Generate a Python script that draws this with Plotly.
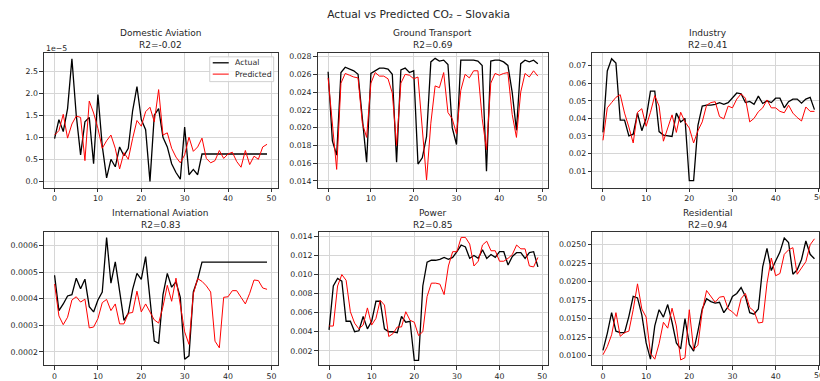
import plotly.graph_objects as go

x_vals = list(range(50))
x_ticks = [0, 10, 20, 30, 40, 50]

# Domestic Aviation (units of 1e-5)
domestic_actual = [0.97, 1.40, 1.13, 1.65, 2.78, 1.50, 0.60, 1.35, 1.45, 0.40,
                   1.97, 0.80, 0.08, 0.50, 0.33, 0.78, 0.58, 0.75, 1.60, 2.15,
                   1.40, 1.17, 0.00, 1.50, 1.65, 1.00, 0.78, 0.40, 0.20, 0.05,
                   1.23, 0.15, 0.27, 0.15, 0.62, 0.62, 0.62, 0.62, 0.62, 0.62,
                   0.62, 0.62, 0.62, 0.62, 0.62, 0.62, 0.62, 0.62, 0.62, 0.62]
domestic_pred = [1.05, 1.15, 1.52, 0.98, 1.30, 1.48, 1.45, 0.47, 1.82, 1.55,
                 1.20, 0.75, 0.92, 1.05, 0.75, 0.28, 0.65, 0.50, 0.97, 1.38,
                 1.25, 1.58, 1.68, 1.35, 2.08, 1.05, 1.10, 0.75, 0.55, 0.42,
                 0.60, 1.00, 0.68, 0.78, 0.98, 0.52, 0.42, 0.47, 0.70, 0.52,
                 0.62, 0.66, 0.45, 0.32, 0.70, 0.38, 0.57, 0.50, 0.78, 0.84]

ground_actual = [0.0263, 0.0185, 0.0169, 0.0262, 0.0268, 0.0266, 0.0264, 0.0260, 0.0210, 0.0161,
                 0.0261, 0.0264, 0.0267, 0.0267, 0.0266, 0.0260, 0.0161, 0.0265, 0.0267, 0.0262,
                 0.0264, 0.0159, 0.0166, 0.0190, 0.0274, 0.0278, 0.0275, 0.0276, 0.0271, 0.0200,
                 0.0181, 0.0276, 0.0276, 0.0276, 0.0276, 0.0275, 0.0270, 0.0151, 0.0275, 0.0276,
                 0.0276, 0.0274, 0.0270, 0.0240, 0.0197, 0.0272, 0.0276, 0.0274, 0.0276, 0.0272]
ground_pred = [0.0256, 0.0200, 0.0153, 0.0250, 0.0261, 0.0259, 0.0257, 0.0256, 0.0205, 0.0189,
               0.0250, 0.0262, 0.0258, 0.0258, 0.0255, 0.0239, 0.0180, 0.0250, 0.0260, 0.0259,
               0.0255, 0.0257, 0.0200, 0.0141, 0.0205, 0.0247, 0.0245, 0.0262, 0.0217, 0.0210,
               0.0193, 0.0242, 0.0260, 0.0256, 0.0264, 0.0264, 0.0210, 0.0175, 0.0250, 0.0261,
               0.0259, 0.0261, 0.0262, 0.0215, 0.0189, 0.0240, 0.0261, 0.0257, 0.0264, 0.0258]

industry_actual = [0.032, 0.067, 0.074, 0.0715, 0.039, 0.039, 0.030, 0.031, 0.043, 0.033,
                   0.040, 0.0555, 0.0555, 0.0325, 0.0305, 0.0302, 0.0297, 0.043, 0.038, 0.040,
                   0.0045, 0.0045, 0.036, 0.047, 0.0475, 0.0475, 0.048, 0.049, 0.048, 0.049,
                   0.052, 0.0545, 0.054, 0.049, 0.0497, 0.048, 0.0527, 0.0485, 0.050, 0.049,
                   0.0515, 0.0515, 0.046, 0.0495, 0.051, 0.051, 0.0487, 0.051, 0.052, 0.045]
industry_pred = [0.0275, 0.046, 0.049, 0.052, 0.0535, 0.043, 0.035, 0.026, 0.0435, 0.0455,
                 0.0355, 0.0435, 0.053, 0.047, 0.027, 0.034, 0.042, 0.032, 0.0435, 0.038,
                 0.0345, 0.026, 0.033, 0.038, 0.0475, 0.049, 0.0495, 0.041, 0.0397, 0.047,
                 0.046, 0.051, 0.054, 0.0515, 0.038, 0.040, 0.0438, 0.046, 0.0505, 0.046,
                 0.046, 0.044, 0.0432, 0.0475, 0.043, 0.0405, 0.0385, 0.0465, 0.044, 0.044]

intl_actual = [0.000488, 0.000355, 0.000380, 0.000410, 0.000415, 0.000477, 0.000437, 0.000473, 0.000370, 0.000350,
               0.000395, 0.000425, 0.000630, 0.000458, 0.000538, 0.000425, 0.000318, 0.000345, 0.000435, 0.000495,
               0.000472, 0.000558, 0.000395, 0.000240, 0.000232, 0.000415, 0.000495, 0.000443, 0.000463, 0.000405,
               0.000172, 0.000185, 0.000425, 0.000473, 0.000537, 0.000537, 0.000537, 0.000537, 0.000537, 0.000537,
               0.000537, 0.000537, 0.000537, 0.000537, 0.000537, 0.000537, 0.000537, 0.000537, 0.000537, 0.000537]
intl_pred = [0.000455, 0.000335, 0.000302, 0.000330, 0.000395, 0.000407, 0.000387, 0.000398, 0.000290, 0.000293,
             0.000325, 0.000385, 0.000397, 0.000355, 0.000380, 0.000305, 0.000305, 0.000345, 0.000348, 0.000428,
             0.000350, 0.000380, 0.000350, 0.000320, 0.000308, 0.000370, 0.000450, 0.000390, 0.000477, 0.000380,
             0.000275, 0.000228, 0.000418, 0.000475, 0.000465, 0.000448, 0.000425, 0.000240, 0.000215, 0.000405,
             0.000407, 0.000430, 0.000430, 0.000405, 0.000380, 0.000420, 0.000470, 0.000468, 0.000440, 0.000435]

power_actual = [0.0042, 0.0088, 0.0096, 0.0093, 0.0051, 0.0051, 0.0040, 0.0041, 0.0056, 0.0043,
                0.0051, 0.0072, 0.0072, 0.0043, 0.0040, 0.0040, 0.0039, 0.0056, 0.0050, 0.0051,
                0.0010, 0.0010, 0.0088, 0.0113, 0.0115, 0.0115, 0.0116, 0.0118, 0.0116, 0.0118,
                0.0124, 0.0131, 0.0129, 0.0117, 0.0120, 0.0117, 0.0126, 0.0117, 0.0121, 0.0118,
                0.0124, 0.0124, 0.0110, 0.0119, 0.0123, 0.0123, 0.0117, 0.0123, 0.0124, 0.0108]
power_pred = [0.0046, 0.0046, 0.0088, 0.0100, 0.0094, 0.0061, 0.0049, 0.0043, 0.0047, 0.0065,
              0.0047, 0.0054, 0.0073, 0.0068, 0.0035, 0.0038, 0.0045, 0.0045, 0.0061, 0.0052,
              0.0050, 0.0036, 0.0040, 0.0077, 0.0091, 0.0091, 0.0090, 0.0079, 0.0109, 0.0124,
              0.0124, 0.0139, 0.0139, 0.0132, 0.0109, 0.0114, 0.0131, 0.0135, 0.0125, 0.0125,
              0.0114, 0.0114, 0.0117, 0.0121, 0.0131, 0.0127, 0.0127, 0.0109, 0.0108, 0.0118]

resid_actual = [0.0107, 0.0130, 0.0158, 0.0133, 0.0131, 0.0131, 0.0153, 0.0180, 0.0178, 0.0155,
                0.0117, 0.0095, 0.0140, 0.0162, 0.0152, 0.0169, 0.0145, 0.0117, 0.0109, 0.0150,
                0.0115, 0.0106, 0.0133, 0.0163, 0.0177, 0.0173, 0.0171, 0.0172, 0.0158, 0.0166,
                0.0180, 0.0184, 0.0192, 0.0180, 0.0158, 0.0156, 0.0163, 0.0220, 0.0245, 0.0215,
                0.0228, 0.0240, 0.0259, 0.0253, 0.0210, 0.0216, 0.0230, 0.0255, 0.0237, 0.0231]
resid_pred = [0.0101, 0.0112, 0.0128, 0.0158, 0.0126, 0.0131, 0.0133, 0.0162, 0.0197, 0.0163,
              0.0152, 0.0103, 0.0095, 0.0116, 0.0145, 0.0137, 0.0164, 0.0140, 0.0094, 0.0097,
              0.0162, 0.0108, 0.0114, 0.0160, 0.0188, 0.0180, 0.0172, 0.0179, 0.0180, 0.0163,
              0.0159, 0.0153, 0.0177, 0.0184, 0.0165, 0.0160, 0.0144, 0.0145, 0.0198, 0.0232,
              0.0208, 0.0211, 0.0237, 0.0243, 0.0246, 0.0210, 0.0219, 0.0227, 0.0250, 0.0258]

titles = ["Domestic Aviation", "Ground Transport", "Industry",
          "International Aviation", "Power", "Residential"]
r2_values = ["-0.02", "0.69", "0.41", "0.83", "0.85", "0.94"]
legend_labels = ["Actual", "Predicted"]

W, H = 820, 381
FONT = "DejaVu Sans"
TXT = "#262626"

panels = [
    dict(a=domestic_actual, p=domestic_pred, box=(44, 278, 53, 189), yr=[-0.14, 2.92],
         tv=[0, 0.5, 1.0, 1.5, 2.0, 2.5], fmt=".1f", xr=[-2.45, 51.45], tc=161),
    dict(a=ground_actual, p=ground_pred, box=(318, 549, 53, 189), yr=[0.01326, 0.02845],
         tv=[0.014, 0.016, 0.018, 0.020, 0.022, 0.024, 0.026, 0.028], fmt=".3f", xr=[-2.45, 51.45], tc=433.5),
    dict(a=industry_actual, p=industry_pred, box=(593, 820, 53, 189), yr=[0.0006, 0.0775],
         tv=[0.01, 0.02, 0.03, 0.04, 0.05, 0.06, 0.07], fmt=".2f", xr=[-2.48, 50.05], tc=709),
    dict(a=intl_actual, p=intl_pred, box=(44, 278, 234, 368), yr=[0.00015, 0.00065],
         tv=[0.0002, 0.0003, 0.0004, 0.0005, 0.0006], fmt=".4f", xr=[-2.45, 51.45], tc=161),
    dict(a=power_actual, p=power_pred, box=(319, 549, 234, 368), yr=[0.0005, 0.01445],
         tv=[0.002, 0.004, 0.006, 0.008, 0.010, 0.012, 0.014], fmt=".3f", xr=[-2.45, 51.45], tc=434),
    dict(a=resid_actual, p=resid_pred, box=(593, 820, 234, 368), yr=[0.0087, 0.0267],
         tv=[0.0100, 0.0125, 0.0150, 0.0175, 0.0200, 0.0225, 0.0250], fmt=".4f", xr=[-2.48, 50.05], tc=709),
]

fig = go.Figure()
annotations = []
shapes = []
layout_axes = {}

for i, pnl in enumerate(panels):
    n = i + 1
    xa = "x" if n == 1 else f"x{n}"
    ya = "y" if n == 1 else f"y{n}"
    fig.add_trace(go.Scatter(x=x_vals, y=pnl["a"], mode="lines", name=legend_labels[0],
                             line=dict(color="black", width=1.3),
                             xaxis=xa, yaxis=ya, showlegend=False))
    fig.add_trace(go.Scatter(x=x_vals, y=pnl["p"], mode="lines", name=legend_labels[1],
                             line=dict(color="red", width=1.0),
                             xaxis=xa, yaxis=ya, showlegend=False))
    x0, x1, y0, y1 = pnl["box"]
    xdom = [x0 / W, min(x1 / W, 1.0)]
    ydom = [1 - y1 / H, 1 - y0 / H]
    common = dict(showline=True, mirror=True, linecolor="#333333", linewidth=1,
                  ticks="outside", ticklen=3.5, tickwidth=0.8, tickcolor="#333333",
                  showgrid=True, gridcolor="#d6d6d6", gridwidth=1, zeroline=False,
                  tickfont=dict(family=FONT, size=7.8, color=TXT))
    layout_axes["xaxis" if n == 1 else f"xaxis{n}"] = dict(
        domain=xdom, range=pnl["xr"], tickvals=x_ticks, anchor=ya, **common)
    layout_axes["yaxis" if n == 1 else f"yaxis{n}"] = dict(
        domain=ydom, range=pnl["yr"], tickvals=pnl["tv"], tickformat=pnl["fmt"],
        anchor=xa, **common)
    # two-line subplot title
    l1 = y0 - 19.7
    l2 = y0 - 7.5
    annotations.append(dict(text=titles[i], xref="paper", yref="paper",
                            x=pnl["tc"] / W, y=1 - l1 / H, xanchor="center", yanchor="middle",
                            showarrow=False, font=dict(family=FONT, size=9, color=TXT)))
    annotations.append(dict(text=f"R2={r2_values[i]}", xref="paper", yref="paper",
                            x=pnl["tc"] / W, y=1 - l2 / H, xanchor="center", yanchor="middle",
                            showarrow=False, font=dict(family=FONT, size=9, color=TXT)))

# the "50" tick label of the right-hand panels, cut by the figure edge
for ylab in (199.0, 378.5):
    annotations.append(dict(text="50", xref="paper", yref="paper", x=1.0, y=1 - ylab / H,
                            xanchor="center", yanchor="middle", showarrow=False,
                            font=dict(family=FONT, size=7.8, color=TXT)))

# offset text for the domestic aviation axis
annotations.append(dict(text="1e\u22125", xref="paper", yref="paper", x=44 / W, y=1 - 49.3 / H,
                        xanchor="left", yanchor="middle", showarrow=False,
                        font=dict(family=FONT, size=7.8, color=TXT)))

# legend drawn in the first panel (box, handles, labels)
shapes.append(dict(type="rect", xref="paper", yref="paper",
                   x0=210 / W, x1=274 / W, y0=1 - 82.3 / H, y1=1 - 57.3 / H,
                   line=dict(color="#d0d0d0", width=1), fillcolor="rgba(255,255,255,0.8)", layer="above"))
for yy, col, lbl in [(63.3, "black", legend_labels[0]), (74.7, "red", legend_labels[1])]:
    shapes.append(dict(type="line", xref="paper", yref="paper",
                       x0=213 / W, x1=229 / W, y0=1 - yy / H, y1=1 - yy / H,
                       line=dict(color=col, width=1.3 if col == "black" else 1.0), layer="above"))
    annotations.append(dict(text=lbl, xref="paper", yref="paper", x=233.5 / W, y=1 - yy / H,
                            xanchor="left", yanchor="middle", showarrow=False,
                            font=dict(family=FONT, size=7.8, color=TXT)))

fig.update_layout(
    width=W, height=H,
    margin=dict(l=0, r=0, t=0, b=0),
    paper_bgcolor="white", plot_bgcolor="white",
    showlegend=False,
    title=dict(text="Actual vs Predicted CO\u2082 \u2013 Slovakia", x=418.7 / W, xanchor="center",
               y=1 - 14 / H, yanchor="middle", font=dict(family=FONT, size=10.7, color=TXT)),
    annotations=annotations,
    shapes=shapes,
    **layout_axes,
)

fig.write_html("out.html", config={"displayModeBar": False},
               post_script="document.body.style.margin='0';document.body.style.overflow='hidden';")
